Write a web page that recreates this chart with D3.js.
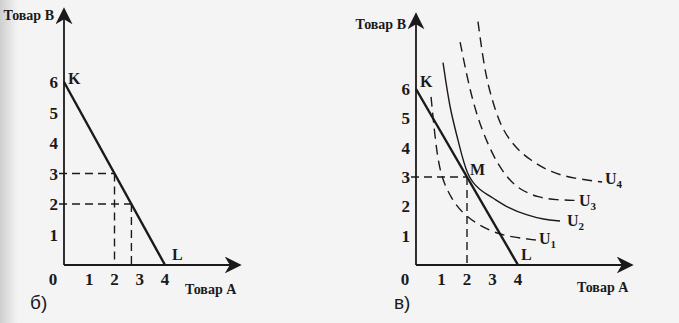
<!DOCTYPE html>
<html>
<head>
<meta charset="utf-8">
<script src="https://cdn.jsdelivr.net/npm/d3@7"></script>
<style>
  body { margin: 0; background: #f4f4f4; }
  svg { display: block; }
  .num { font-family: "Liberation Serif", "DejaVu Serif", serif; font-size: 17px; font-weight: bold; fill: #1a1a1a; }
  .lbl { font-family: "Liberation Serif", serif; font-size: 14px; font-weight: bold; fill: #1a1a1a; }
  .big { font-family: "Liberation Serif", serif; font-size: 16px; font-weight: bold; fill: #1a1a1a; }
  .pan { font-family: "Liberation Sans", Arial, sans-serif; font-size: 19px; fill: #1a1a1a; }
</style>
</head>
<body>
<div id="chart"></div>
<script>
// данные
const ticksX = [1, 2, 3, 4];
const ticksY = [1, 2, 3, 4, 5, 6];
const budget = [{ a: 0, b: 6 }, { a: 4, b: 0 }];
const guidesB = [{ a: 2, b: 3 }, { a: 2.67, b: 2 }];
const guidesV = [{ a: 2, b: 3 }];
const u1 = [[0.59, 5.73], [0.75, 4.3], [0.94, 3.1], [1.35, 2.3], [1.92, 1.64], [3.0, 1.1], [3.8, 0.95], [4.7, 0.85]];
const u2 = [[1.06, 6.9], [1.33, 5.3], [1.65, 4.27], [2.0, 3.0], [2.5, 2.55], [3.0, 2.3], [3.6, 1.95], [4.35, 1.7], [5.0, 1.55], [5.65, 1.5]];
const u3 = [[1.73, 7.6], [2.05, 6.2], [2.4, 5.05], [2.8, 4.15], [3.18, 3.48], [3.6, 2.95], [4.08, 2.56], [4.8, 2.3], [5.5, 2.22], [6.3, 2.2]];
const u4 = [[2.43, 8.3], [2.6, 7.2], [2.8, 6.2], [3.1, 5.3], [3.4, 4.6], [3.9, 4.0], [4.47, 3.58], [5.3, 3.15], [6.2, 2.95], [7.3, 2.83]];
const curves = [
  { name: "1", pts: u1, dash: true, lx: 539, ly: 244 },
  { name: "2", pts: u2, dash: false, lx: 567, ly: 226 },
  { name: "3", pts: u3, dash: true, lx: 579, ly: 206 },
  { name: "4", pts: u4, dash: true, lx: 605, ly: 184 }
];

const W = 679, H = 323;
const svg = d3.select('#chart').append('svg').attr('width', W).attr('height', H);

const defs = svg.append('defs');
defs.append('marker').attr('id', 'arr')
  .attr('viewBox', '0 0 10 10').attr('refX', 9).attr('refY', 5)
  .attr('markerWidth', 17).attr('markerHeight', 17).attr('markerUnits', 'userSpaceOnUse')
  .attr('orient', 'auto')
  .append('path').attr('d', 'M0,0 L10,5 L0,10 L3,5 Z').attr('fill', '#1a1a1a');
const grad = defs.append('linearGradient').attr('id', 'edge');
grad.append('stop').attr('offset', 0).attr('stop-color', '#cfcfcf');
grad.append('stop').attr('offset', 1).attr('stop-color', '#f4f4f4');
svg.append('rect').attr('width', 18).attr('height', H).attr('fill', 'url(#edge)');

const ink = '#1a1a1a';

function panel(opt) {
  const x = d3.scaleLinear().domain([0, 4]).range([opt.x0, opt.x4]);
  const y = d3.scaleLinear().domain([0, 6]).range([opt.y0, opt.y6]);
  const g = svg.append('g');

  // оси
  g.append('line').attr('x1', x(0)).attr('y1', y(0)).attr('x2', x(0)).attr('y2', opt.topY)
    .attr('stroke', ink).attr('stroke-width', 1.8).attr('marker-end', 'url(#arr)');
  g.append('line').attr('x1', x(0)).attr('y1', y(0)).attr('x2', opt.rightX).attr('y2', y(0))
    .attr('stroke', ink).attr('stroke-width', 1.8).attr('marker-end', 'url(#arr)');

  g.selectAll('.tx').data(ticksX).enter().append('text').attr('class', 'num')
    .attr('x', d => x(d)).attr('y', y(0) + 20).attr('text-anchor', 'middle').text(d => d);
  g.append('text').attr('class', 'num').attr('x', x(0) - 11).attr('y', y(0) + 20)
    .attr('text-anchor', 'middle').text('0');
  g.selectAll('.ty').data(ticksY).enter().append('text').attr('class', 'num')
    .attr('x', x(0) - 6).attr('y', d => y(d) + 6).attr('text-anchor', 'end').text(d => d);

  g.append('text').attr('class', 'lbl').attr('x', x(0) - 10).attr('y', opt.yLabY)
    .attr('text-anchor', 'end').text('Товар B');
  g.append('text').attr('class', 'lbl').attr('x', opt.xLabX).attr('y', opt.xLabY).text('Товар A');
  g.append('text').attr('class', 'pan').attr('x', opt.panX).attr('y', 309).text(opt.pan);

  // пунктир
  opt.guides.forEach(p => {
    g.append('path').attr('d', `M${x(0) - 5},${y(p.b)} H${x(p.a)}`)
      .attr('stroke', ink).attr('stroke-width', 1.4).attr('stroke-dasharray', '8,5').attr('fill', 'none');
    g.append('path').attr('d', `M${x(p.a)},${y(p.b)} V${y(0)}`)
      .attr('stroke', ink).attr('stroke-width', 1.4).attr('stroke-dasharray', '8,5').attr('fill', 'none');
  });

  // бюджетная линия
  g.append('path').datum(budget)
    .attr('d', d3.line().x(d => x(d.a)).y(d => y(d.b)))
    .attr('stroke', ink).attr('stroke-width', 2.4).attr('fill', 'none');
  g.append('text').attr('class', 'big').attr('x', x(0) + opt.kdx).attr('y', y(6) + opt.kdy).text('K');
  g.append('text').attr('class', 'big').attr('x', x(4) + opt.ldx).attr('y', y(0) - 5).text('L');
  return { g, x, y };
}

panel({ x0: 64, x4: 165, y0: 265, y6: 82, topY: 9, rightX: 240, kdx: 4, kdy: 2, ldx: 7,
  yLabY: 20, xLabX: 185, xLabY: 294, panX: 30, pan: 'б)', guides: guidesB });

const p = panel({ x0: 416, x4: 518, y0: 265, y6: 89, topY: 14, rightX: 632, kdx: 4, kdy: -2, ldx: 3,
  yLabY: 29, xLabX: 577, xLabY: 292, panX: 394, pan: 'в)', guides: guidesV });

const line = d3.line().x(d => p.x(d[0])).y(d => p.y(d[1])).curve(d3.curveBasis);
curves.forEach(c => {
  p.g.append('path').datum(c.pts).attr('d', line)
    .attr('stroke', ink).attr('stroke-width', 1.4).attr('fill', 'none')
    .attr('stroke-dasharray', c.dash ? '10,6' : null);
  const t = p.g.append('text').attr('class', 'big').attr('x', c.lx).attr('y', c.ly).text('U');
  t.append('tspan').attr('dy', 4).attr('font-size', 11).text(c.name);
});
p.g.append('text').attr('class', 'big').attr('x', p.x(2) + 3).attr('y', p.y(3) - 2).text('M');
</script>
</body>
</html>
